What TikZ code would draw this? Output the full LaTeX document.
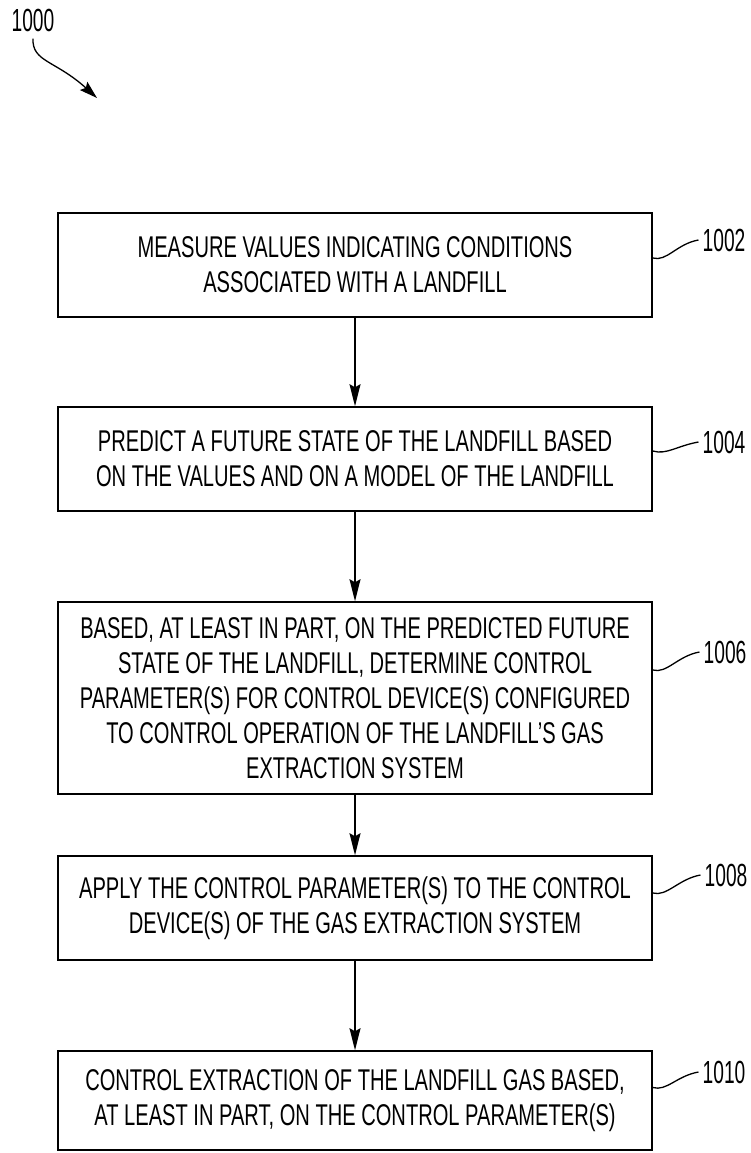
\documentclass[tikz,border=0pt]{standalone}
\usepackage{fontspec}
\setmainfont[FakeStretch=0.67]{Liberation Sans}
\newfontfamily\reffont[FakeStretch=0.6]{Liberation Sans}
\usetikzlibrary{arrows.meta}
\begin{document}
\begin{tikzpicture}[x=1pt,y=-1pt,
  stepbox/.style={draw,line width=1.5pt,minimum width=594pt,align=center,inner sep=0pt,
    font=\fontsize{30}{35}\selectfont},
  reflabel/.style={inner sep=1pt,font=\reffont\fontsize{32}{32}\selectfont},
  flow/.style={line width=1.5pt,-{Stealth[length=22pt,width=11pt,inset=3pt]}},
  leader/.style={line width=1.3pt}]
\useasboundingbox (0,0) rectangle (751,1153);
\node[stepbox,minimum height=104pt] (b1) at (355,265) {MEASURE VALUES INDICATING CONDITIONS\\ASSOCIATED WITH A LANDFILL};
\node[stepbox,minimum height=104pt] (b2) at (355,459) {PREDICT A FUTURE STATE OF THE LANDFILL BASED\\ON THE VALUES AND ON A MODEL OF THE LANDFILL};
\node[stepbox,minimum height=192pt] (b3) at (355,698) {BASED, AT LEAST IN PART, ON THE PREDICTED FUTURE\\STATE OF THE LANDFILL, DETERMINE CONTROL\\PARAMETER(S) FOR CONTROL DEVICE(S) CONFIGURED\\TO CONTROL OPERATION OF THE LANDFILL'S GAS\\EXTRACTION SYSTEM};
\node[stepbox,minimum height=104pt] (b4) at (355,908) {APPLY THE CONTROL PARAMETER(S) TO THE CONTROL\\DEVICE(S) OF THE GAS EXTRACTION SYSTEM};
\node[stepbox,minimum height=99pt] (b5) at (355,1100.5) {CONTROL EXTRACTION OF THE LANDFILL GAS BASED,\\AT LEAST IN PART, ON THE CONTROL PARAMETER(S)};
\draw[flow] (b1.south) -- (b2.north);
\draw[flow] (b2.south) -- (b3.north);
\draw[flow] (b3.south) -- (b4.north);
\draw[flow] (b4.south) -- (b5.north);
\node[reflabel] (l1) at (724,240) {1002};
\node[reflabel] (l2) at (724,442) {1004};
\node[reflabel] (l3) at (725,652) {1006};
\node[reflabel] (l4) at (726,875) {1008};
\node[reflabel] (l5) at (724,1072) {1010};
\draw[leader] ([yshift=7pt]b1.east) .. controls +(14,4) and +(-22,4) .. ([xshift=-3pt]l1.west);
\draw[leader] ([yshift=8pt]b2.east) .. controls +(14,4) and +(-22,4) .. ([xshift=-3pt]l2.west);
\draw[leader] ([yshift=28pt]b3.east) .. controls +(14,4) and +(-22,4) .. ([xshift=-3pt]l3.west);
\draw[leader] ([yshift=15pt]b4.east) .. controls +(14,4) and +(-22,4) .. ([xshift=-3pt]l4.west);
\draw[leader] ([yshift=13pt]b5.east) .. controls +(14,4) and +(-22,4) .. ([xshift=-3pt]l5.west);
\node[reflabel] (l0) at (33,20) {1000};
\coordinate (a0) at (97,98);
\draw[line width=1.3pt,-{Stealth[length=18pt,width=11pt,inset=3pt]}] ([yshift=-6pt]l0.south) .. controls (32,62) and (55,60) .. (a0);
\end{tikzpicture}
\end{document}
